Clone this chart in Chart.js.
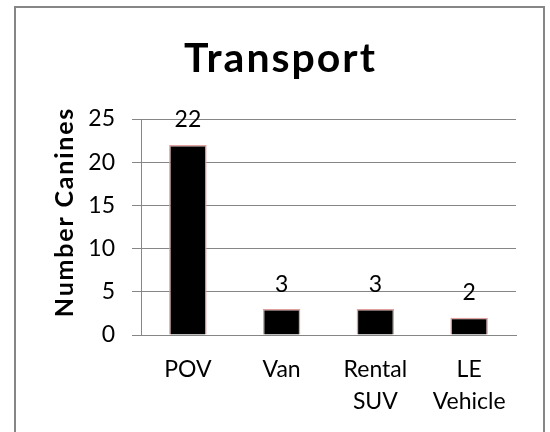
<!DOCTYPE html>
<html>
<head>
<meta charset="utf-8">
<script src="https://cdn.jsdelivr.net/npm/chart.js@4/dist/chart.umd.min.js"></script>
<style>
  html, body { margin: 0; padding: 0; background: #fff; overflow: hidden; }
  #frame { position: absolute; left: 14px; top: 6px; width: 527px; height: 520px;
           border: 2px solid #868686; border-bottom: none; }
  #wrap { position: absolute; left: 0; top: 0; width: 550px; height: 432px; }
</style>
</head>
<body>
<div id="frame"></div>
<div id="wrap"><canvas id="c" width="550" height="432"></canvas></div>
<script>
const titleText = "Transport";
const yAxisTitle = "Number Canines";
const categories = ["POV", "Van", ["Rental", "SUV"], ["LE", "Vehicle"]];
const values = [22, 3, 3, 2];
const yTicks = [0, 5, 10, 15, 20, 25];

const FONT = "Lato, 'Noto Sans', sans-serif";
const GRID = "#868686";

const decorPlugin = {
  id: 'decor',
  afterDraw(chart) {
    const ctx = chart.ctx;
    ctx.save();
    ctx.fillStyle = "#000";
    // title
    ctx.font = "bold 41px " + FONT;
    ctx.letterSpacing = "2px";
    ctx.textAlign = "center";
    ctx.textBaseline = "alphabetic";
    ctx.fillText(titleText, 280.5, 72);
    // y axis title
    ctx.translate(73, 212);
    ctx.rotate(-Math.PI / 2);
    ctx.font = "bold 25px " + FONT;
    ctx.letterSpacing = "1.8px";
    ctx.fillText(yAxisTitle, 0, 0);
    ctx.restore();
    // data labels
    ctx.save();
    ctx.font = "23px " + FONT;
    ctx.fillStyle = "#000";
    ctx.textAlign = "center";
    ctx.textBaseline = "alphabetic";
    const meta = chart.getDatasetMeta(0);
    meta.data.forEach((bar, i) => {
      ctx.fillText(String(values[i]), bar.x, bar.y - 17.5);
    });
    ctx.restore();
  }
};

new Chart(document.getElementById('c'), {
  type: 'bar',
  data: {
    labels: categories,
    datasets: [{
      data: values,
      backgroundColor: "#000000",
      borderColor: "#e0a0a0",
      borderWidth: 1.5,
      barPercentage: 0.4,
      categoryPercentage: 1.0
    }]
  },
  options: {
    responsive: false,
    animation: false,
    events: [],
    layout: { padding: { left: 0, right: 34, top: 119, bottom: 0 } },
    plugins: { legend: { display: false }, title: { display: false }, tooltip: { enabled: false } },
    scales: {
      x: {
        grid: { display: false, drawTicks: false },
        border: { display: true, color: GRID, width: 1 },
        ticks: { color: "#000", font: { family: FONT, size: 23, lineHeight: 1.39 }, padding: 19, maxRotation: 0, autoSkip: false },
        afterFit(scale) { scale.height = 97; }
      },
      y: {
        min: 0, max: 25,
        afterBuildTicks(scale) { scale.ticks = yTicks.map(v => ({ value: v })); },
        grid: { color: GRID, lineWidth: 1, drawTicks: true, tickLength: 9 },
        border: { display: true, color: GRID, width: 1 },
        ticks: { color: "#000", font: { family: FONT, size: 23 }, padding: 17 },
        afterFit(scale) { scale.width = 141; }
      }
    }
  },
  plugins: [decorPlugin]
});
</script>
</body>
</html>
